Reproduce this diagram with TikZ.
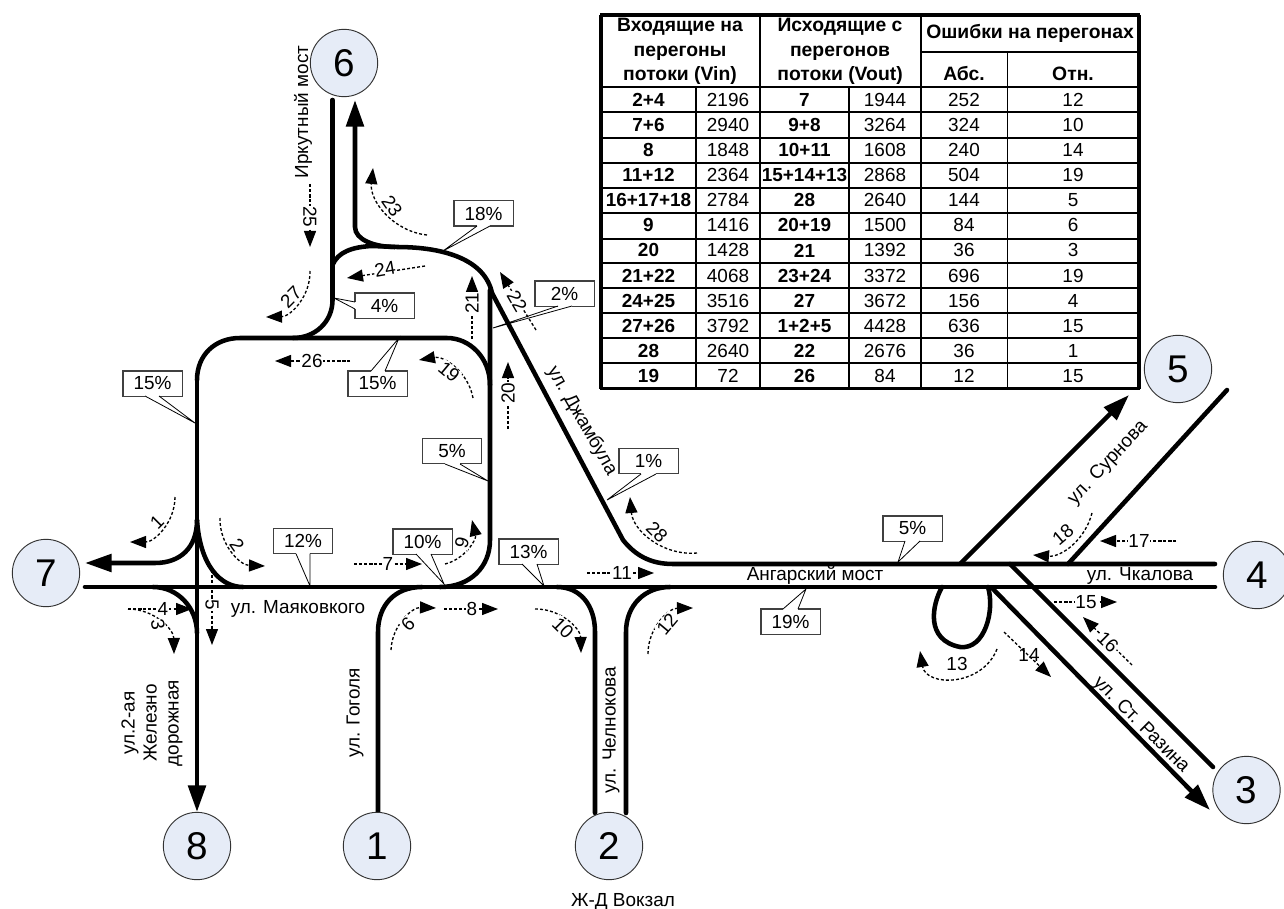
\documentclass[tikz,border=0pt]{standalone}
\usepackage{fontspec}
\setmainfont{Liberation Sans}
\usetikzlibrary{arrows.meta}
\definecolor{nodeblue}{RGB}{230,236,247}
\definecolor{boxgray}{RGB}{64,64,64}
\begin{document}
\begin{tikzpicture}[x=0.75pt,y=-0.75pt, every node/.style={font=\fontsize{14.2}{16.5}\selectfont}, road/.style={line width=3.4pt,line cap=round}, roadarr/.style={road,line cap=butt,-{Triangle[length=20pt,width=13pt]}}, flow/.style={line width=1pt,dash pattern=on 2.2pt off 1.6pt,-{Triangle[length=12pt,width=9pt]}}, num/.style={fill=white,inner sep=0.6pt}, city/.style={circle,draw=black!80,line width=0.7pt,fill=nodeblue,minimum size=50.5pt,inner sep=0pt,font=\fontsize{29}{30}\selectfont}, pct/.style={draw=boxgray,line width=0.8pt,fill=white,minimum width=44.3pt,minimum height=18.8pt,inner sep=0pt}, peak/.style={draw=black,line width=0.6pt}, tblb/.style={line width=2.2pt}, tblt/.style={line width=1.3pt}, cell/.style={inner sep=0pt}, head/.style={cell,align=center,font=\fontsize{14.5}{18.4}\selectfont\bfseries}]
\useasboundingbox[fill=white] (0,0) rectangle (1284,909);
\foreach \n/\x/\y in {w7/85/587,e4/1215/587,w7b/85/563,e4b/1215/564,s8/197/812,s1/378/812,s2a/595/813,s2b/626/813,n6a/332.5/100,n6b/355/100,n5a/1129/395,n5b/1227/390,j5a/960/564,j5b/1068/564,j3a/1010/564,j3b/992/588,s3a/1210/810,s3b/1213/767,top/197/380,jd/492/293}
  \coordinate (\n) at (\x,\y);
\draw[road] (w7) -- (e4);
\draw[roadarr] (197,520) .. controls (197,548) and (180,563) .. (155,563) -- (w7b);
\draw[road] (197,520) .. controls (200,565) and (220,587) .. (243,587);
\draw[road] (153,587) .. controls (178,587) and (197,608) .. (197,633);
\draw[roadarr] (top) -- (s8);
\draw[road] (top) .. controls (197,355) and (215,338) .. (240,338) -- (447,338) .. controls (470,338) and (490,358) .. (490,385);
\draw[road] (332.5,300) .. controls (332.5,322) and (315,338) .. (293,338);
\draw[road] (n6a) -- (332.5,300);
\draw[road] (490,290) -- (490,540) .. controls (490,567) and (470,587) .. (440,587);
\draw[road] (332.5,265) .. controls (338,252) and (352,247) .. (372,246) -- (397,247) .. controls (445,247) and (485,260) .. (jd);
\draw[roadarr] (395,247) .. controls (375,247) and (355,240) .. (355,227) -- (n6b);
\draw[road] (jd) -- (623,540) .. controls (635,555) and (650,564) .. (673,564) -- (e4b);
\draw[road] (s1) -- (378,632) .. controls (378,605) and (395,587) .. (422,587);
\draw[road] (557,587) .. controls (580,587) and (595,605) .. (595,632) -- (s2a);
\draw[road] (s2b) -- (626,632) .. controls (626,605) and (645,587) .. (670,587);
\draw[roadarr] (j5a) -- (n5a);
\draw[road] (j5b) -- (n5b);
\draw[road] (j3a) -- (s3b);
\draw[roadarr] (j3b) -- (s3a);
\draw[road] (942,587) .. controls (932,605) and (925,640) .. (960,647) .. controls (985,650) and (995,610) .. (988,587);
\foreach \n/\sx/\sy/\tx/\ty/\bend/\lx/\ly/\rot in {1/175/497/130/542/45/157/522/45,2/220/518/265/566/-45/237/545/-55,3/128/609/174/654/45/158/625/-80,4/128/609/192/609/0/163/609/0,5/212/570/212/645/0/212/605/-90,6/391/650/436/608/45/408/624/45,7/354/564/422/564/0/388/564/0,8/444/609/498/609/0/472/609/0,9/445/564/472/520/-45/462/543/75,10/535/609/581/653/45/563/628/-45,11/587/573/654/573/0/622/573/0,12/648/654/693/608/45/667/624/50,15/1054/602/1117/602/0/1086/602/0,16/1132/665/1083/617/0/1108/642/-45,17/1176/541/1100/541/0/1139/541/0,18/1092/513/1033/555/40/1063/535/40,19/473/398/419/360/-45/449/372/-40,20/508/429/508/362/0/508/393/90,21/472/339/472/276/0/472/303/90,22/536/330/500/272/0/517/301/-60,23/427/235/373/168/45/392/206/-55,24/425/266/347/278/0/385/269/10,25/310/184/310/247/0/310/217/-90,26/350/361/275/361/0/312/361/0,27/310/271/266/317/45/291/297/45,28/697/553/630/497/45/657/532/-45}{
  \coordinate (fs\n) at (\sx,\sy); \coordinate (ft\n) at (\tx,\ty);
  \draw[flow] (fs\n) to[bend left=\bend] (ft\n);
  \node[num,rotate=\rot] (f\n) at (\lx,\ly) {\n};
}
\coordinate (fs13) at (997,649); \coordinate (ft13) at (920,651);
\draw[flow] (fs13) .. controls (982,687) and (926,687) .. (ft13);
\node[cell] (f13) at (957,664) {13};
\coordinate (fs14) at (1004,632); \coordinate (ft14) at (1051,677);
\draw[flow] (fs14) -- (ft14);
\node[cell] (f14) at (1029,655) {14};
\foreach \t/\cx/\cy/\ax/\ay/\bx/\by/\tipx/\tipy [count=\k] in {12/303/541/296/553.7/310/553.7/310/586,10/422.5/541.5/416/554/431/554/444/584,13/528.5/551.5/522/564/537/564/544/586,5/452/451/445/464/460/464/488/481,15/152.5/383.5/145/396/159/396/195/423,15/377.5/383.5/371/371/385/371/399/338,4/384.5/305.5/355/302/355/309/334/298,18/483.5/213.5/477/226/490/226/443/251,2/564.5/293.5/558/306/572/306/493/328,1/648.5/461/641/474/656/474/607/500,19/790.5/621.5/783/609/798/609/806/589,5/912.5/528.5/905/541/920/541/898/562}{
  \node[pct] (p\k) at (\cx,\cy) {\t\%};
  \coordinate (tip\k) at (\tipx,\tipy);
  \draw[white,line width=1.1pt] (\ax,\ay) -- (\bx,\by);
  \draw[peak] (\ax,\ay) -- (tip\k) -- (\bx,\by);
}
\foreach \n/\x/\y in {6/344/63,5/1178/369,4/1257/575,3/1246.5/790,2/609/846,1/377/846,8/197/846,7/46/573}
  \node[city] (c\n) at (\x,\y) {\n};
\node[rotate=90] (irk) at (303,112) {Иркутный мост};
\node (may) at (298,609) {ул. Маяковкого};
\node[rotate=90,align=center] (zhd) at (152,723) {ул.2-ая\\Железно\\дорожная};
\node[rotate=90] (gog) at (355,713) {ул. Гоголя};
\node[rotate=90] (chel) at (611,730) {ул. Челнокова};
\node (vok) at (623,902) {Ж-Д Вокзал};
\node[rotate=-60] (dzh) at (582,421) {ул. Джамбула};
\node (ang) at (815,575) {Ангарский мост};
\node (chk) at (1140,576) {ул. Чкалова};
\node[rotate=47] (sur) at (1108,463) {ул. Сурнова};
\node[rotate=-45] (raz) at (1141,725) {ул. Ст. Разина};
\foreach \y in {15,388.8} \draw[line width=2.3pt] (600,\y) -- (1140,\y);
\foreach \x in {601,1139} \draw[line width=2.3pt] (\x,15) -- (\x,389);
\foreach \y in {87,112,138,163,188,213,239,263,288,313,338,363} \draw[tblb] (601,\y) -- (1139,\y);
\draw[tblb] (921,52) -- (1139,52);
\foreach \x in {760,921} \draw[tblb] (\x,15) -- (\x,389);
\foreach \x in {696,849} \draw[tblt] (\x,87) -- (\x,389);
\draw[tblt] (1007.5,52) -- (1007.5,389);
\node[head] (hin) at (680,51.5) {Входящие на\\перегоны\\потоки (Vin)};
\node[head] (hout) at (840,51.5) {Исходящие с\\перегонов\\потоки (Vout)};
\node[head] (herr) at (1030,33) {Ошибки на перегонах};
\node[head] (habs) at (964,74) {Абс.};
\node[head] (hrel) at (1073,74) {Отн.};
\foreach \a/\b/\c/\d/\e/\f [count=\r] in {2+4/2196/7/1944/252/12,7+6/2940/9+8/3264/324/10,8/1848/10+11/1608/240/14,11+12/2364/15+14+13/2868/504/19,16+17+18/2784/28/2640/144/5,9/1416/20+19/1500/84/6,20/1428/21/1392/36/3,21+22/4068/23+24/3372/696/19,24+25/3516/27/3672/156/4,27+26/3792/1+2+5/4428/636/15,28/2640/22/2676/36/1,19/72/26/84/12/15}{
  \node[cell] (a\r) at (648.5,{87+25.15*(\r-.5)}) {\textbf{\a}};
  \node[cell] (b\r) at (728,{87+25.15*(\r-.5)}) {\b};
  \node[cell] (c\r) at (804.5,{87+25.15*(\r-.5)}) {\textbf{\c}};
  \node[cell] (d\r) at (885,{87+25.15*(\r-.5)}) {\d};
  \node[cell] (e\r) at (964,{87+25.15*(\r-.5)}) {\e};
  \node[cell] (r\r) at (1073,{87+25.15*(\r-.5)}) {\f};
}
\end{tikzpicture}
\end{document}
